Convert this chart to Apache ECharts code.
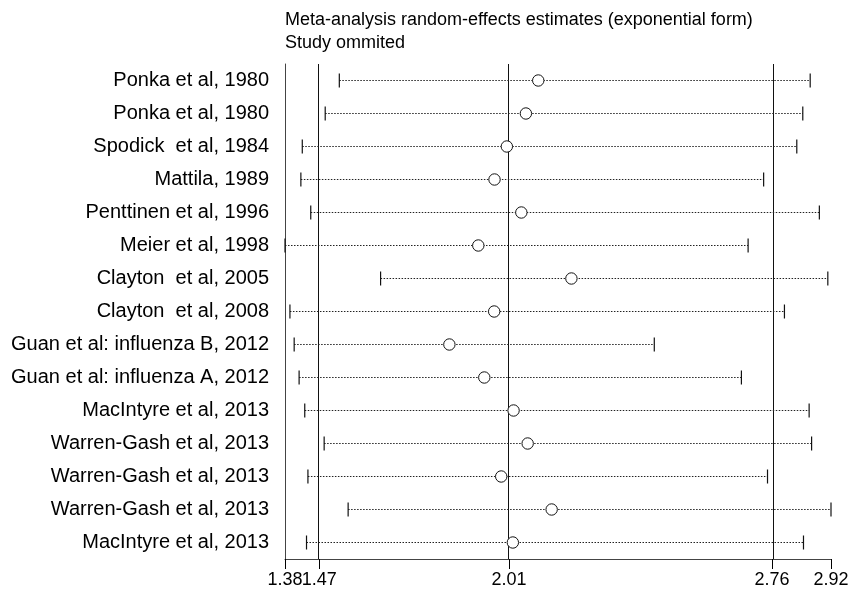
<!DOCTYPE html>
<html>
<head>
<meta charset="utf-8">
<script src="https://cdn.jsdelivr.net/npm/echarts@6/dist/echarts.min.js"></script>
<style>
html,body{margin:0;padding:0;background:#fff;}
#chart{width:859px;height:593px;}
</style>
</head>
<body>
<div id="chart"></div>
<script>
const studies = [
  "Ponka et al, 1980",
  "Ponka et al, 1980",
  "Spodick  et al, 1984",
  "Mattila, 1989",
  "Penttinen et al, 1996",
  "Meier et al, 1998",
  "Clayton  et al, 2005",
  "Clayton  et al, 2008",
  "Guan et al: influenza B, 2012",
  "Guan et al: influenza A, 2012",
  "MacIntyre et al, 2013",
  "Warren-Gash et al, 2013",
  "Warren-Gash et al, 2013",
  "Warren-Gash et al, 2013",
  "MacIntyre et al, 2013"
];
const lowerCI  = [1.530, 1.490, 1.425, 1.421, 1.449, 1.376, 1.647, 1.390, 1.402, 1.416, 1.432, 1.487, 1.441, 1.555, 1.437];
const estimate = [2.094, 2.059, 2.005, 1.970, 2.046, 1.924, 2.188, 1.969, 1.842, 1.941, 2.024, 2.064, 1.989, 2.132, 2.022];
const upperCI  = [2.865, 2.844, 2.827, 2.733, 2.891, 2.689, 2.915, 2.792, 2.423, 2.670, 2.862, 2.869, 2.744, 2.924, 2.846];
// overall estimate and its CI (lower, estimate, upper)
const overall = [1.473, 2.011, 2.757];
const axisMin = Math.min(...lowerCI);
const axisMax = Math.max(...upperCI);
const tickValues = [axisMin, overall[0], overall[1], overall[2], axisMax];
// labels split over two axes so the touching labels (1.38 / 1.47) are both drawn
const labelsMain = [axisMin, overall[1], overall[2], axisMax];
const labelsExtra = [overall[0]];

const FONT = '"Liberation Sans", Arial, Helvetica, sans-serif';
const data = studies.map((s, i) => [i, lowerCI[i], estimate[i], upperCI[i]]);

const labelStyle = {margin: 12, showMinLabel: true, showMaxLabel: true, hideOverlap: false,
  formatter: v => v.toFixed(2), fontFamily: FONT, fontSize: 18, color: '#000'};

const chart = echarts.init(document.getElementById('chart'), null, {renderer: 'canvas'});
chart.setOption({
  animation: false,
  backgroundColor: '#fff',
  title: {
    text: 'Meta-analysis random-effects estimates (exponential form)\nStudy ommited',
    left: 285, top: 9,
    padding: 0,
    textStyle: {fontFamily: FONT, fontSize: 18, fontWeight: 'normal', color: '#000', lineHeight: 22.5}
  },
  grid: {left: 285, right: 28, top: 64, bottom: 34, containLabel: false},
  xAxis: [{
    type: 'value', min: axisMin, max: axisMax, position: 'bottom',
    axisLine: {show: true, onZero: false, lineStyle: {color: '#444', width: 1}},
    axisTick: {show: true, length: 10, customValues: tickValues, lineStyle: {color: '#000'}},
    axisLabel: Object.assign({customValues: labelsMain}, labelStyle),
    splitLine: {show: false}
  }, {
    type: 'value', min: axisMin, max: axisMax, position: 'bottom',
    axisLine: {show: false, onZero: false},
    axisTick: {show: false},
    axisLabel: Object.assign({customValues: labelsExtra}, labelStyle),
    splitLine: {show: false}
  }],
  yAxis: {
    type: 'category', data: studies, inverse: true,
    axisLine: {show: true, lineStyle: {color: '#444', width: 1}},
    axisTick: {show: false},
    axisLabel: {margin: 16, fontFamily: FONT, fontSize: 20, color: '#000'},
    splitLine: {show: false}
  },
  series: [{
    type: 'custom',
    xAxisIndex: 0,
    data: data,
    encode: {x: [1, 2, 3], y: 0},
    renderItem: function (params, api) {
      const idx = api.value(0);
      const pLo = api.coord([api.value(1), idx]);
      const pEst = api.coord([api.value(2), idx]);
      const pHi = api.coord([api.value(3), idx]);
      const y = pLo[1];
      const h = 7;
      return {
        type: 'group',
        children: [
          {type: 'line', shape: {x1: pLo[0], y1: y, x2: pHi[0], y2: y},
           style: {stroke: '#222', lineWidth: 1, lineDash: [1.5, 1.5]}},
          {type: 'line', shape: {x1: pLo[0], y1: y - h, x2: pLo[0], y2: y + h},
           style: {stroke: '#111', lineWidth: 1.2}},
          {type: 'line', shape: {x1: pHi[0], y1: y - h, x2: pHi[0], y2: y + h},
           style: {stroke: '#111', lineWidth: 1.2}},
          {type: 'circle', shape: {cx: pEst[0], cy: y, r: 5.7},
           style: {fill: '#fff', stroke: '#111', lineWidth: 1}, z2: 10}
        ]
      };
    },
    markLine: {
      silent: true, symbol: 'none', z: 1,
      label: {show: false},
      lineStyle: {color: '#111', width: 1, type: 'solid'},
      data: overall.map(v => ({xAxis: v}))
    }
  }]
});
</script>
</body>
</html>
